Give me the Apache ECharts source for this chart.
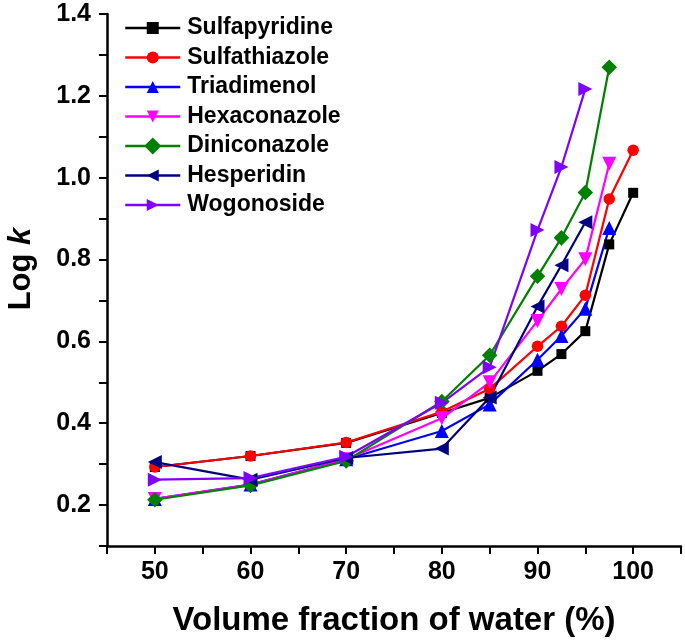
<!DOCTYPE html>
<html>
<head>
<meta charset="utf-8">
<script src="https://cdn.jsdelivr.net/npm/echarts@6/dist/echarts.min.js"></script>
<style>html,body{margin:0;padding:0;background:#fff}#c{width:685px;height:643px}</style>
</head>
<body>
<div id="c"></div>
<script>
const waterFraction = [50, 60, 70, 80, 85, 90, 92.5, 95, 97.5, 100];
const sulfapyridine = [0.293, 0.320, 0.352, 0.425, 0.462, 0.528, 0.569, 0.625, 0.837, 0.963];
const sulfathiazole = [0.293, 0.320, 0.353, 0.428, 0.484, 0.588, 0.637, 0.713, 0.948, 1.067];
const triadimenol = [0.215, 0.250, 0.312, 0.381, 0.446, 0.555, 0.613, 0.680, 0.877];
const hexaconazole = [0.215, 0.250, 0.312, 0.412, 0.500, 0.650, 0.728, 0.801, 1.034];
const diniconazole = [0.213, 0.248, 0.308, 0.453, 0.566, 0.759, 0.853, 0.964, 1.270];
const hesperidin = [0.305, 0.262, 0.315, 0.338, 0.463, 0.685, 0.786, 0.891];
const wogonoside = [0.262, 0.266, 0.318, 0.450, 0.537, 0.872, 1.026, 1.217];

const xTickLabels = ['50', '60', '70', '80', '90', '100'];
const yTickLabels = ['0.2', '0.4', '0.6', '0.8', '1.0', '1.2', '1.4'];

const FONT = '"Liberation Sans", Arial, sans-serif';

function pairs(vals) { return vals.map((v, i) => [waterFraction[i], v]); }

const seriesDefs = [
  { name: 'Sulfapyridine', data: sulfapyridine, color: '#000000', symbol: 'rect', size: 10, rot: 0 },
  { name: 'Sulfathiazole', data: sulfathiazole, color: '#ff0000', symbol: 'circle', size: 11.5, rot: 0 },
  { name: 'Triadimenol', data: triadimenol, color: '#0000ff', symbol: 'triangle', size: 14, rot: 0 },
  { name: 'Hexaconazole', data: hexaconazole, color: '#ff00ff', symbol: 'triangle', size: 14, rot: 180 },
  { name: 'Diniconazole', data: diniconazole, color: '#008000', symbol: 'rect', size: 11, rot: 45 },
  { name: 'Hesperidin', data: hesperidin, color: '#000080', symbol: 'triangle', size: 14, rot: 90 },
  { name: 'Wogonoside', data: wogonoside, color: '#8000ff', symbol: 'triangle', size: 14, rot: -90 }
];

const chart = echarts.init(document.getElementById('c'), null, { renderer: 'canvas' });
chart.setOption({
  animation: false,
  backgroundColor: '#ffffff',
  grid: { left: 107, right: 4, top: 14, bottom: 97, containLabel: false, outerBoundsMode: 'none' },
  legend: {
    orient: 'vertical',
    left: 124,
    top: 16,
    padding: 0,
    itemWidth: 55,
    itemHeight: 15,
    itemGap: 5.5,
    lineStyle: { width: 2.5 },
    textStyle: { fontFamily: FONT, fontWeight: 'bold', fontSize: 23, color: '#000', lineHeight: 24, padding: [0, 0, 0, 2] },
    data: seriesDefs.map(s => s.name)
  },
  xAxis: {
    type: 'value',
    min: 45, max: 105, interval: 5,
    name: 'Volume fraction of water (%)',
    nameLocation: 'middle',
    nameGap: 58,
    nameTextStyle: { fontFamily: FONT, fontWeight: 'bold', fontSize: 33, color: '#000' },
    splitLine: { show: false },
    axisLine: { onZero: false, lineStyle: { color: '#000', width: 2.5 } },
    axisTick: { inside: false, length: 8, lineStyle: { color: '#000', width: 2 } },
    axisLabel: {
      margin: 14,
      fontFamily: FONT, fontWeight: 'bold', fontSize: 25, color: '#000',
      formatter: v => { const s = String(Math.round(v)); return xTickLabels.includes(s) ? s : ''; }
    }
  },
  yAxis: {
    type: 'value',
    min: 0.1, max: 1.4, interval: 0.1,
    name: 'Log {i|k}',
    nameLocation: 'middle',
    nameGap: 70,
    nameRotate: 90,
    nameTextStyle: {
      fontFamily: FONT, fontWeight: 'bold', fontSize: 31, color: '#000', padding: [0, 0, 0, 22],
      rich: { i: { fontFamily: FONT, fontWeight: 'bold', fontStyle: 'italic', fontSize: 31, color: '#000' } }
    },
    splitLine: { show: false },
    axisLine: { onZero: false, lineStyle: { color: '#000', width: 2.5 } },
    axisTick: { inside: false, length: 8, lineStyle: { color: '#000', width: 2 } },
    axisLabel: {
      margin: 16,
      fontFamily: FONT, fontWeight: 'bold', fontSize: 25, color: '#000',
      formatter: v => { const s = v.toFixed(1); return yTickLabels.includes(s) ? s : ''; }
    }
  },
  series: seriesDefs.map(s => ({
    name: s.name,
    type: 'line',
    data: pairs(s.data),
    symbol: s.symbol,
    symbolSize: s.size,
    symbolRotate: s.rot,
    showAllSymbol: true,
    color: s.color,
    lineStyle: { color: s.color, width: 2.2 },
    itemStyle: { color: s.color },
    emphasis: { disabled: true }
  }))
});
</script>
</body>
</html>
